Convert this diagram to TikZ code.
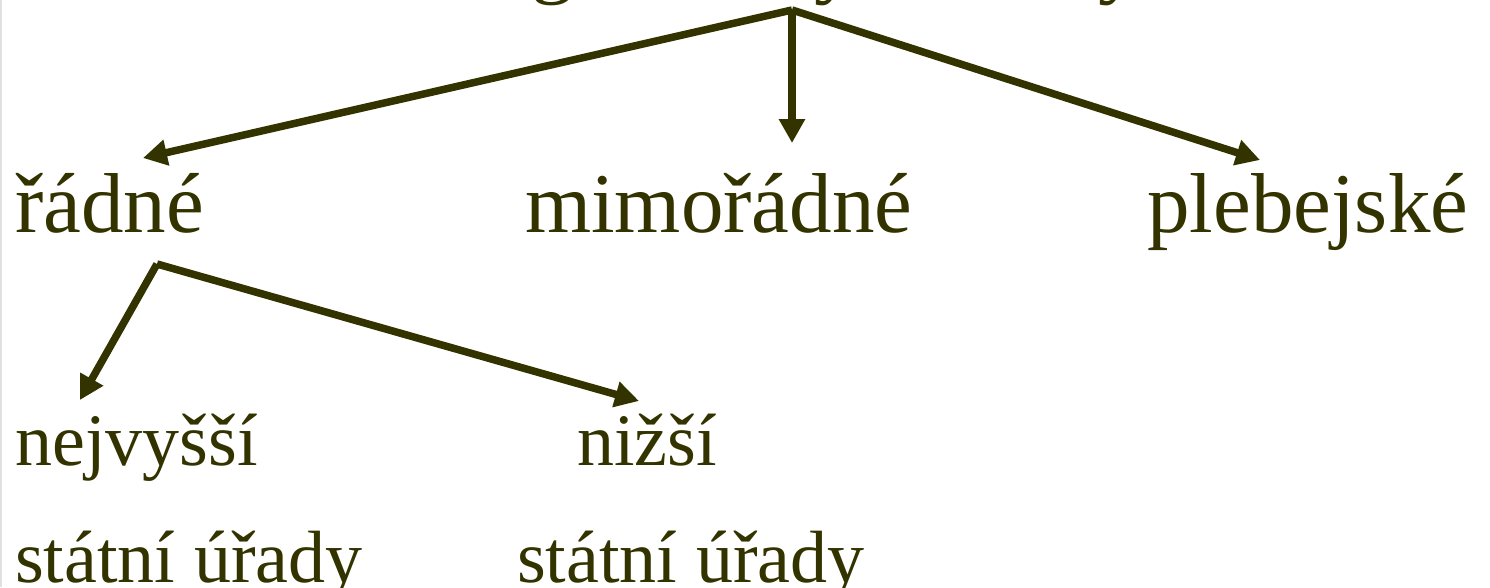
\documentclass[tikz,border=0pt]{standalone}
\usepackage{fontspec}
\setmainfont{Liberation Serif}
\usetikzlibrary{arrows.meta}
\definecolor{olive}{RGB}{51,51,0}
\begin{document}
\begin{tikzpicture}[x=1pt,y=-1pt,
  big/.style={inner sep=0pt,anchor=base west,text=olive,font=\fontsize{85}{100}\selectfont},
  small/.style={inner sep=0pt,anchor=base west,text=olive,font=\fontsize{74}{88}\selectfont},
  conn/.style={draw=olive,line width=7.5pt,-{Triangle[length=24pt,width=25pt]}}]
\useasboundingbox (0,0) rectangle (1490,587);
\fill[white] (0,0) rectangle (1490,587);
\fill[black!12] (0,0) rectangle (2,587);
\begin{scope}
\clip (0,0) rectangle (1490,587);
\node[big] (title) at (418,-13) {Magistratury – druhy};
\end{scope}
\node[big] (radne) at (15,232) {řádné};
\node[big] (mimo) at (525,232) {mimořádné};
\node[big] (pleb) at (1147,232) {plebejské};
\node[small] (nejv) at (15,465) {nejvyšší};
\node[small] (nizsi) at (577,465) {nižší};
\node[small] (su1) at (15,582) {státní úřady};
\node[small] (su2) at (517,582) {státní úřady};
\coordinate (top) at (792,10);
\coordinate (tA) at (143,158);
\coordinate (tB) at (792,143);
\coordinate (tC) at (1260,160);
\coordinate (sub) at (157,264);
\coordinate (tD) at (80,400);
\coordinate (tE) at (639,401);
\draw[conn] (top) -- (tA);
\draw[conn] (top) -- (tB);
\draw[conn] (top) -- (tC);
\draw[conn] (sub) -- (tD);
\draw[conn] (sub) -- (tE);
\end{tikzpicture}
\end{document}
